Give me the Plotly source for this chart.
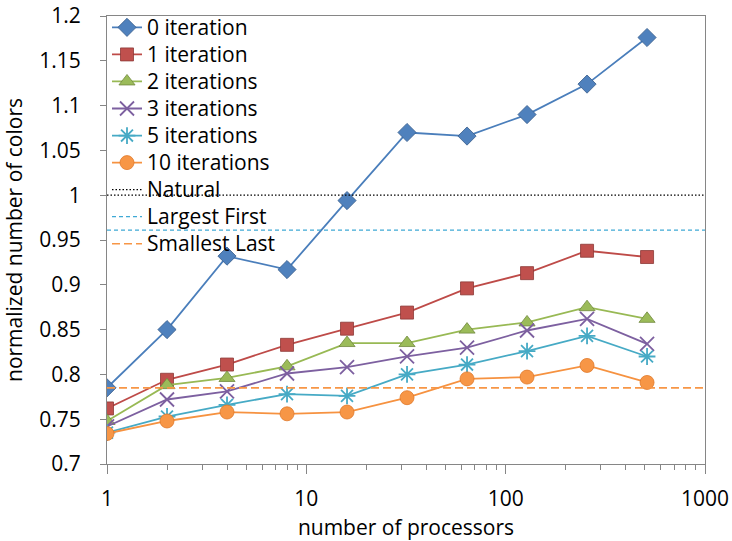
import plotly.graph_objects as go

processors = [1, 2, 4, 8, 16, 32, 64, 128, 256, 512]
iter0 = [0.785, 0.850, 0.932, 0.917, 0.994, 1.070, 1.066, 1.090, 1.124, 1.176]
iter1 = [0.762, 0.794, 0.811, 0.833, 0.851, 0.869, 0.896, 0.913, 0.938, 0.931]
iter2 = [0.748, 0.788, 0.796, 0.809, 0.835, 0.835, 0.850, 0.858, 0.875, 0.862]
iter3 = [0.742, 0.772, 0.781, 0.801, 0.808, 0.820, 0.830, 0.849, 0.862, 0.834]
iter5 = [0.735, 0.753, 0.766, 0.778, 0.776, 0.800, 0.811, 0.826, 0.843, 0.820]
iter10 = [0.734, 0.748, 0.758, 0.756, 0.758, 0.774, 0.795, 0.797, 0.810, 0.791]
natural = 1.0
largest_first = 0.961
smallest_last = 0.785
ref_x = [1, 1000]

y_ticks = [0.7, 0.75, 0.8, 0.85, 0.9, 0.95, 1.0, 1.05, 1.1, 1.15, 1.2]
y_tick_text = ["0.7", "0.75", "0.8", "0.85", "0.9", "0.95", "1", "1.05", "1.1", "1.15", "1.2"]
x_ticks = [1, 10, 100, 1000]
x_tick_text = ["1", "10", "100", "1000"]
x_minor = [m * 10 ** e for e in range(0, 3) for m in range(2, 10)]

FONT = "'Open Sans', 'Noto Sans', sans-serif"
TXT = 21


def legend_name(s):
    return "<span style='font-size:%dpx'>%s</span>" % (TXT, s)


series = [
    ("0 iteration", iter0, "#4A7EBB", "#4F81BD", "#385D8A", "diamond", 14),
    ("1 iteration", iter1, "#BE4B48", "#C0504D", "#8C3836", "square", 13),
    ("2 iterations", iter2, "#98B954", "#9BBB59", "#71893F", "triangle-up", 14),
    ("3 iterations", iter3, "#7D60A0", "#7D60A0", "#7D60A0", "x-thin-open", 14),
    ("5 iterations", iter5, "#46AAC5", "#46AAC5", "#46AAC5", "asterisk-open", 14),
    ("10 iterations", iter10, "#F69240", "#F79646", "#E0782A", "circle", 14),
]

fig = go.Figure()
for name, vals, lc, mc, mlc, sym, size in series:
    open_sym = sym.endswith("open")
    fig.add_trace(go.Scatter(
        x=processors, y=vals, name=legend_name(name), mode="lines+markers",
        line=dict(color=lc, width=1.8),
        marker=dict(symbol=sym, size=size, color=mc,
                    line=dict(color=mlc, width=1.8 if open_sym else 0.8)),
    ))

fig.add_trace(go.Scatter(x=ref_x, y=[natural, natural], name=legend_name("Natural"), mode="lines",
                         line=dict(color="#000000", width=1.2, dash="1.5px,2px")))
fig.add_trace(go.Scatter(x=ref_x, y=[largest_first, largest_first], name=legend_name("Largest First"),
                         mode="lines", line=dict(color="#3FA9D5", width=1.3, dash="4px,3px")))
fig.add_trace(go.Scatter(x=ref_x, y=[smallest_last, smallest_last], name=legend_name("Smallest Last"),
                         mode="lines", line=dict(color="#F79646", width=1.6, dash="8px,4px")))

fig.update_layout(
    width=732, height=541,
    margin=dict(l=107, r=27, t=16, b=77, autoexpand=False),
    paper_bgcolor="white", plot_bgcolor="white",
    font=dict(family=FONT, size=TXT, color="#000000"),
    showlegend=True,
    legend=dict(x=0.0, y=1.016, xanchor="left", yanchor="top",
                bgcolor="rgba(0,0,0,0)", font=dict(size=18.5, family=FONT),
                itemwidth=30, tracegroupgap=0),
    xaxis=dict(
        type="log", range=[0, 3],
        tickmode="array", tickvals=x_ticks, ticktext=x_tick_text,
        showgrid=False, zeroline=False,
        showline=True, linecolor="#868686", linewidth=1, mirror=True,
        ticks="outside", ticklen=9, tickcolor="#868686", ticklabelstandoff=7,
        minor=dict(tickmode="array", tickvals=x_minor, ticks="outside",
                   ticklen=5, tickcolor="#868686", showgrid=False),
        title=dict(text="number of processors", font=dict(size=TXT, family=FONT)),
        tickfont=dict(size=TXT, family=FONT),
    ),
    yaxis=dict(
        range=[0.7, 1.2],
        tickmode="array", tickvals=y_ticks, ticktext=y_tick_text,
        showgrid=False, zeroline=False,
        showline=True, linecolor="#868686", linewidth=1, mirror=True,
        ticks="outside", ticklen=6, tickcolor="#868686", ticklabelstandoff=15,
        title=dict(text="normalized number of colors", font=dict(size=TXT, family=FONT)),
        tickfont=dict(size=TXT, family=FONT),
    ),
)

fig.write_html("out.html", config={"displayModeBar": False},
               post_script="document.body.style.margin='0';")
